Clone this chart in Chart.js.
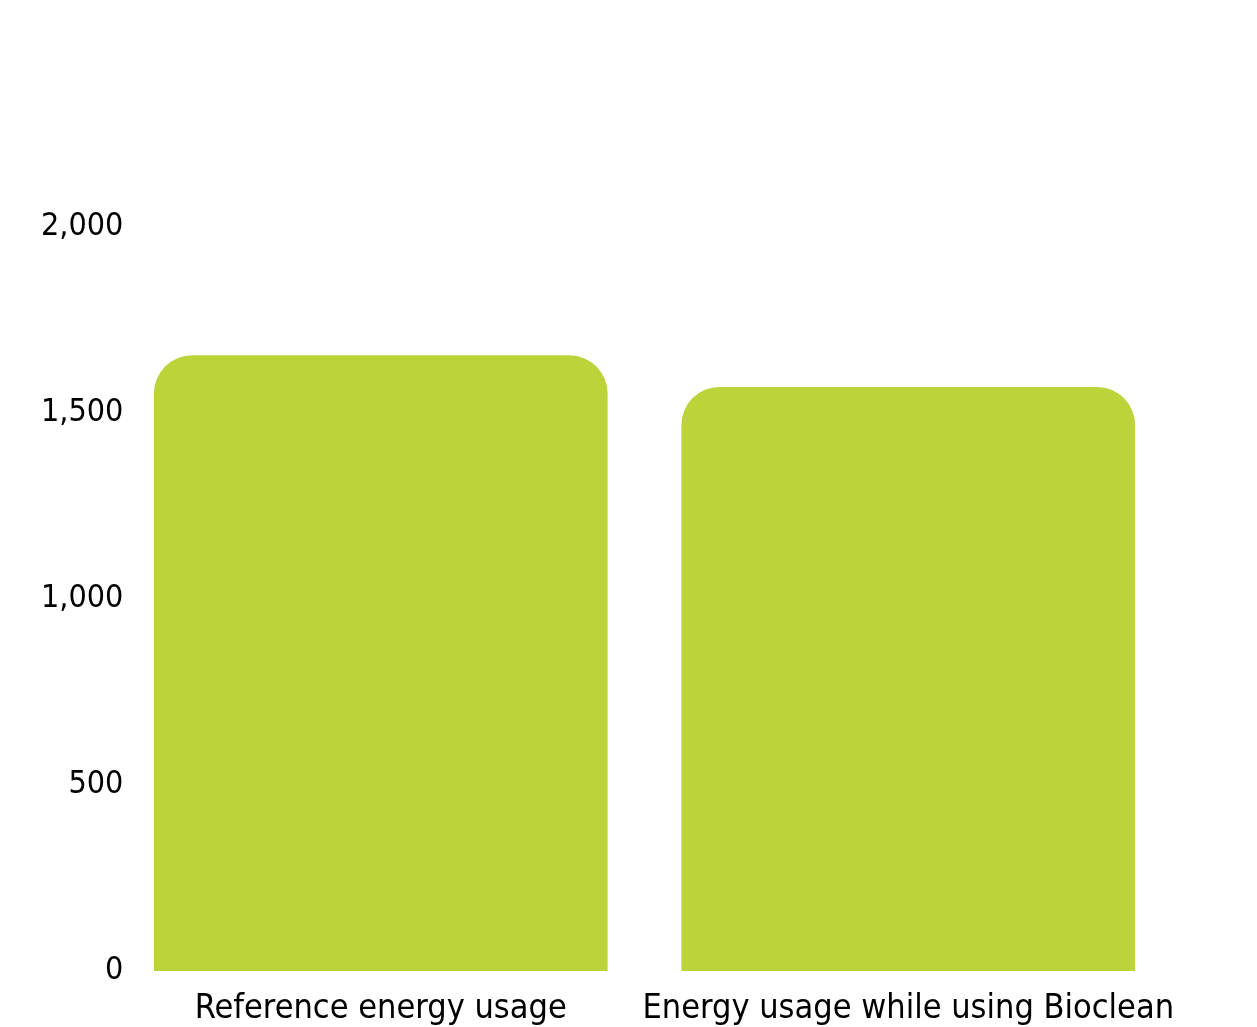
<!DOCTYPE html>
<html>
<head>
<meta charset="utf-8">
<script src="https://cdn.jsdelivr.net/npm/chart.js@4.4.1/dist/chart.umd.min.js"></script>
<style>
  html, body { margin: 0; padding: 0; background: #fff; }
  #wrap { width: 1257px; height: 1027px; }
</style>
</head>
<body>
<div id="wrap"><canvas id="chart-energy" width="1257" height="1027"></canvas></div>
<script>
const categories = ['Reference energy usage', 'Energy usage while using Bioclean'];
const energyValues = [1655, 1570];
const yTicks = [0, 500, 1000, 1500, 2000];

const FONT = "'DejaVu Sans Condensed', 'DejaVu Sans', sans-serif";
const BAR_COLOR = '#bcd43a';

const ctx = document.getElementById('chart-energy').getContext('2d');

new Chart(ctx, {
  type: 'bar',
  data: {
    labels: categories,
    datasets: [
      {
        label: 'Energy usage',
        data: energyValues,
        backgroundColor: BAR_COLOR,
        borderWidth: 0,
        borderRadius: { topLeft: 38, topRight: 38, bottomLeft: 0, bottomRight: 0 },
        borderSkipped: 'bottom',
        categoryPercentage: 1,
        barPercentage: 0.86,
      },
    ],
  },
  options: {
    responsive: false,
    animation: false,
    layout: { padding: { top: 227, right: 85, left: 0, bottom: 0 } },
    plugins: {
      legend: { display: false },
      tooltip: { enabled: false },
    },
    scales: {
      x: {
        grid: { display: false },
        border: { display: false },
        ticks: {
          color: '#000',
          font: { family: FONT, size: 34 },
          padding: 10,
          maxRotation: 0,
          autoSkip: false,
        },
        afterFit: (scale) => { scale.height = 56; },
      },
      y: {
        min: 0,
        max: 2000,
        grid: { display: false },
        border: { display: false },
        afterBuildTicks: (scale) => {
          scale.ticks = yTicks.map((v) => ({ value: v }));
        },
        ticks: {
          color: '#000',
          font: { family: FONT, size: 32 },
          // mirrored so the labels are not clipped to the 117px axis box
          mirror: true,
          crossAlign: 'far',
          padding: -76,
          z: 1,
          callback: (value) => Number(value).toLocaleString('en-US'),
        },
        afterFit: (scale) => { scale.width = 117; },
      },
    },
  },
});
</script>
</body>
</html>
